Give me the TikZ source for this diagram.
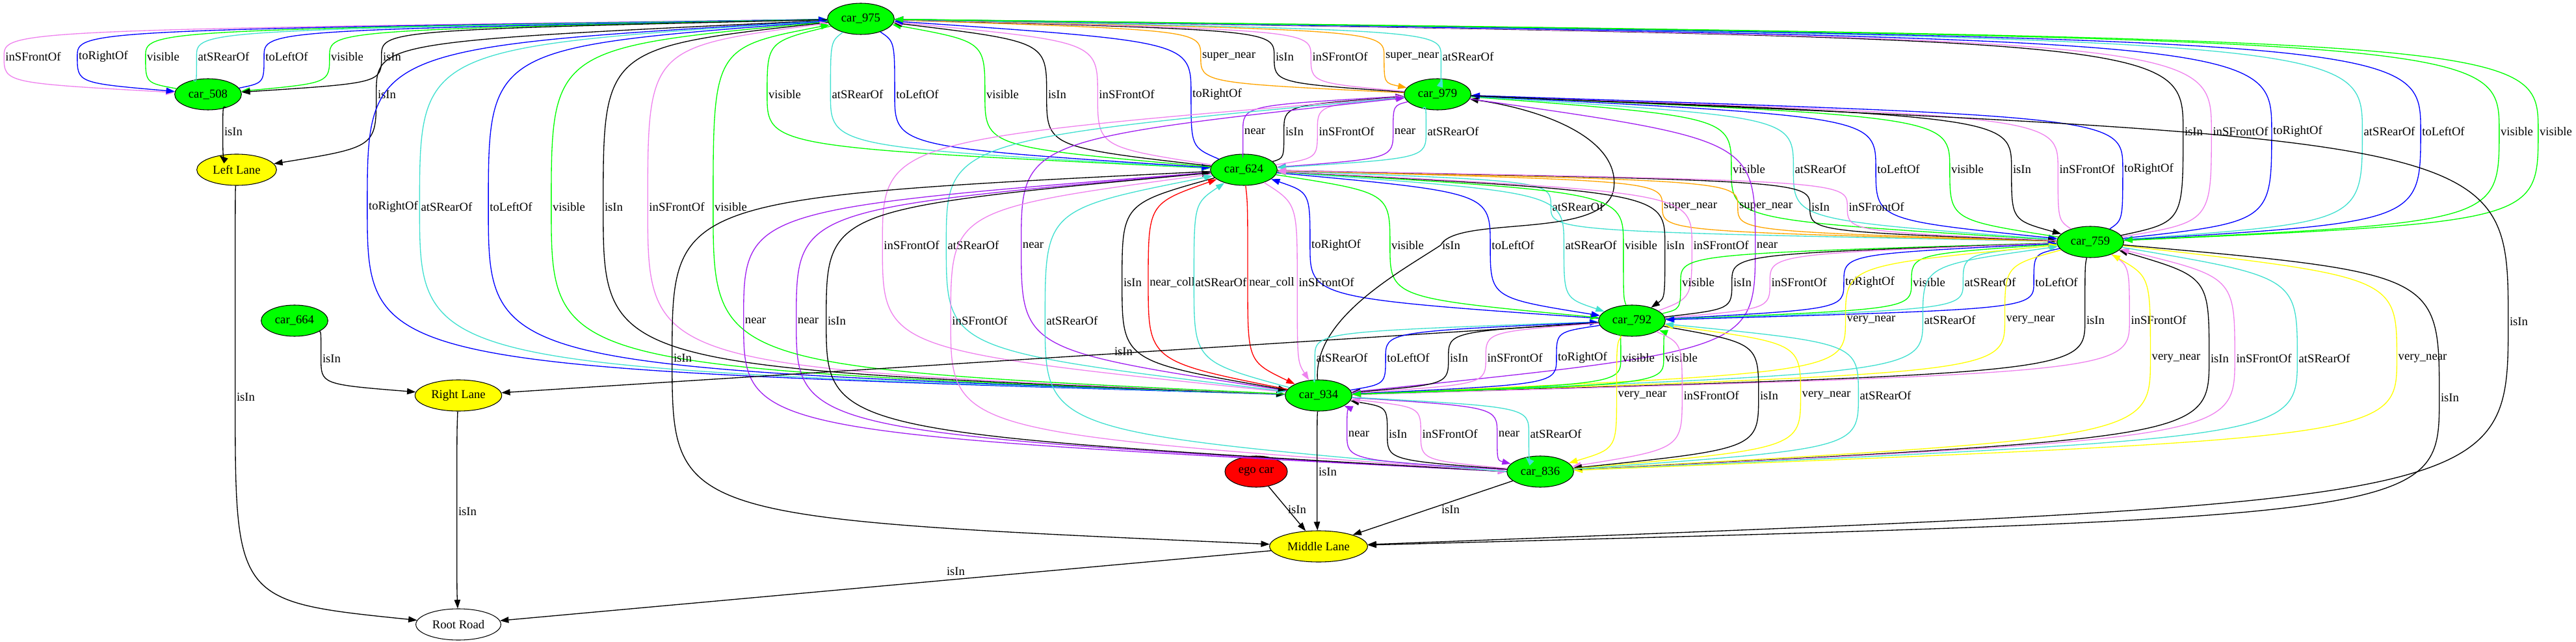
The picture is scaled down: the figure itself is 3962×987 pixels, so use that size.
\documentclass[tikz,border=0pt]{standalone}
\usepackage{fontspec}
\setmainfont{Liberation Serif}
\usetikzlibrary{shapes.geometric,arrows.meta,calc}
\definecolor{gG}{HTML}{00FF00}
\definecolor{gB}{HTML}{0000FF}
\definecolor{gT}{HTML}{40E0D0}
\definecolor{gV}{HTML}{EE82EE}
\definecolor{gP}{HTML}{A020F0}
\definecolor{gO}{HTML}{FFA500}
\definecolor{gR}{HTML}{FF0000}
\definecolor{gY}{HTML}{FFFF00}
\newcounter{lab}
\def\kf{0.7}
\newcommand\ed[6]{%
  \stepcounter{lab}\edef\cl{L\arabic{lab}}%
  \node[lbl] (\cl) at (#5,#6) {#4};
  \draw[conn,#1] (#2) .. controls ($(\cl.west)!\kf!(\cl.west|-#2)$) .. (\cl.west) .. controls ($(\cl.west)!\kf!(\cl.west|-#3)$) .. (#3);}
\newcommand\sed[6]{%
  \stepcounter{lab}\edef\cl{L\arabic{lab}}%
  \node[lbl] (\cl) at (#5,#6) {#4};
  \draw[conn,#1] (#2) -- (#3);}
\tikzset{
  every node/.style={font=\fontsize{14}{16}\selectfont},
  base/.style={ellipse,draw=black,line width=0.8pt,inner sep=0pt,minimum height=36pt},
  car/.style={base,fill=gG,minimum width=77pt},
  lane/.style={base,fill=gY},
  lbl/.style={inner sep=1.5pt},
  conn/.style={line width=1pt,-{Triangle[length=10pt,width=7pt]}}
}
\begin{document}
\begin{tikzpicture}[x=0.75pt,y=-0.75pt]
\useasboundingbox (0,0) rectangle (3962,987);
% nodes
\node[car] (c975) at (1324,29) {car\_975};
\node[car] (c508) at (320,145) {car\_508};
\node[car] (c979) at (2211,145) {car\_979};
\node[lane,minimum width=92pt] (LL) at (364,261) {Left Lane};
\node[car] (c624) at (1913,261) {car\_624};
\node[car] (c759) at (3215,372) {car\_759};
\node[car] (c792) at (2510,493) {car\_792};
\node[car] (c664) at (453,493) {car\_664};
\node[car] (c934) at (2028,608) {car\_934};
\node[lane,minimum width=100pt] (RL) at (705,608) {Right Lane};
\node[car] (c836) at (2369,725) {car\_836};
\node[base,fill=gR,minimum width=72pt] (ego) at (1932,725) {ego car};
\node[lane,minimum width=113pt] (ML) at (2028,840) {Middle Lane};
\node[base,fill=white,minimum width=98pt] (RR) at (705,960) {Root Road};
% row 87
\ed{gV}{c975}{c508}{inSFrontOf}{51}{87}
\ed{gB}{c975}{c508}{toRightOf}{159}{87}
\ed{gG}{c508}{c975}{visible}{251}{87}
\ed{gT}{c508}{c975}{atSRearOf}{344}{87}
\ed{gB}{c508}{c975}{toLeftOf}{441}{87}
\ed{gG}{c975}{c508}{visible}{534}{87}
\ed{black}{c975}{c508}{isIn}{603}{87}
\ed{gO}{c979}{c975}{super\_near}{1890}{87}
\ed{black}{c979}{c975}{isIn}{1976}{87}
\ed{gV}{c979}{c975}{inSFrontOf}{2061}{87}
\ed{gO}{c975}{c979}{super\_near}{2172}{87}
\ed{gT}{c975}{c979}{atSRearOf}{2258}{87}
% row 145
\ed{black}{c975}{LL}{isIn}{595}{145}
\ed{gG}{c975}{c624}{visible}{1207}{145}
\ed{gT}{c975}{c624}{atSRearOf}{1319}{145}
\ed{gB}{c975}{c624}{toLeftOf}{1411}{145}
\ed{gG}{c624}{c975}{visible}{1542}{145}
\ed{black}{c624}{c975}{isIn}{1626}{145}
\ed{gV}{c624}{c975}{inSFrontOf}{1733}{145}
\ed{gB}{c624}{c975}{toRightOf}{1872}{145}
% row 202
\ed{black}{c508}{LL}{isIn}{359}{202}
\ed{gP}{c624}{c979}{near}{1930}{202}
\ed{black}{c624}{c979}{isIn}{1991}{202}
\ed{gV}{c624}{c979}{inSFrontOf}{2071}{202}
\ed{gP}{c979}{c624}{near}{2161}{202}
\ed{gT}{c979}{c624}{atSRearOf}{2235}{202}
\def\kf{0.82}
\ed{black}{c759}{c975}{isIn}{3374}{202}
\ed{gV}{c759}{c975}{inSFrontOf}{3446}{202}
\ed{gB}{c759}{c975}{toRightOf}{3534}{202}
\ed{gT}{c975}{c759}{atSRearOf}{3675}{202}
\ed{gB}{c975}{c759}{toLeftOf}{3758}{202}
\ed{gG}{c975}{c759}{visible}{3871}{202}
\ed{gG}{c759}{c975}{visible}{3931}{202}
\def\kf{0.7}
% row 260
\ed{gG}{c979}{c759}{visible}{2690}{260}
\ed{gT}{c979}{c759}{atSRearOf}{2800}{260}
\ed{gB}{c979}{c759}{toLeftOf}{2920}{260}
\ed{gG}{c759}{c979}{visible}{3026}{260}
\ed{black}{c979}{c759}{isIn}{3110}{260}
\ed{gV}{c759}{c979}{inSFrontOf}{3210}{260}
\ed{gB}{c759}{c979}{toRightOf}{3305}{260}
% row 318
\def\kf{0.85}
\ed{gB}{c975}{c934}{toRightOf}{605}{318}
\ed{gT}{c975}{c934}{atSRearOf}{687}{318}
\ed{gB}{c934}{c975}{toLeftOf}{786}{318}
\ed{gG}{c975}{c934}{visible}{875}{318}
\ed{black}{c975}{c934}{isIn}{944}{318}
\ed{gV}{c934}{c975}{inSFrontOf}{1041}{318}
\ed{gG}{c934}{c975}{visible}{1124}{318}
\def\kf{0.7}
\ed{gT}{c624}{c759}{atSRearOf}{2427}{318}
\ed{gO}{c624}{c759}{super\_near}{2600}{318}
\ed{gO}{c759}{c624}{super\_near}{2716}{318}
\ed{black}{c624}{c759}{isIn}{2800}{318}
\ed{gV}{c759}{c624}{inSFrontOf}{2886}{318}
% row 377
\ed{gV}{c934}{c979}{inSFrontOf}{1402}{377}
\ed{gT}{c979}{c934}{atSRearOf}{1497}{377}
\ed{gP}{c934}{c979}{near}{1589}{377}
\ed{gB}{c792}{c624}{toRightOf}{2055}{377}
\ed{gG}{c624}{c792}{visible}{2165}{377}
\stepcounter{lab}\edef\cl{L\arabic{lab}}%
\node[lbl] (\cl) at (2232,377) {isIn};
\draw[conn,black] (c934) .. controls (2020,490) and (2150,420) .. (\cl.west) .. controls (2240,330) and (2470,370) .. (2482,290) .. controls (2492,215) and (2380,170) .. (c979);
\ed{gB}{c624}{c792}{toLeftOf}{2327}{377}
\ed{gT}{c624}{c792}{atSRearOf}{2447}{377}
\ed{gG}{c792}{c624}{visible}{2524}{377}
\ed{black}{c624}{c792}{isIn}{2577}{377}
\ed{gV}{c792}{c624}{inSFrontOf}{2647}{377}
\ed{gP}{c979}{c934}{near}{2718}{377}
% row 434
\ed{black}{c624}{c934}{isIn}{1742}{434}
\ed{gR}{c934}{c624}{near\_coll}{1803}{434}
\ed{gT}{c934}{c624}{atSRearOf}{1878}{434}
\ed{gR}{c624}{c934}{near\_coll}{1956}{434}
\ed{gV}{c624}{c934}{inSFrontOf}{2040}{434}
\ed{gG}{c792}{c759}{visible}{2612}{434}
\ed{black}{c792}{c759}{isIn}{2680}{434}
\ed{gV}{c792}{c759}{inSFrontOf}{2767}{434}
\ed{gB}{c792}{c759}{toRightOf}{2876}{434}
\ed{gG}{c759}{c792}{visible}{2967}{434}
\ed{gT}{c759}{c792}{atSRearOf}{3061}{434}
\ed{gB}{c759}{c792}{toLeftOf}{3163}{434}
% row 493
\def\kf{0.74}
\ed{gP}{c624}{c836.west}{near}{1162}{493}
\ed{gP}{c836.west}{c624}{near}{1243}{493}
\ed{black}{c836.west}{c624}{isIn}{1287}{493}
\ed{gV}{c624}{c836.west}{inSFrontOf}{1507}{493}
\ed{gT}{c836.west}{c624}{atSRearOf}{1649}{493}
\def\kf{0.7}
\ed{gY}{c934}{c759}{very\_near}{2878}{492}
\ed{gT}{c934}{c759}{atSRearOf}{2999}{492}
\ed{gY}{c759}{c934}{very\_near}{3123}{492}
\ed{black}{c759}{c934}{isIn}{3223}{492}
\ed{gV}{c759}{c934}{inSFrontOf}{3320}{492}
\def\kf{0.8}
\ed{black}{c979}{ML}{isIn}{3874}{494}
\def\kf{0.7}
% row 550
\ed{black}{c664}{RL}{isIn}{510}{551}
\def\kf{0.85}
\ed{black}{c624}{ML}{isIn}{1050}{550}
\def\kf{0.7}
\sed{black}{c792}{RL}{isIn}{1728}{540}
\ed{gT}{c934}{c792}{atSRearOf}{2064}{550}
\ed{gB}{c934}{c792}{toLeftOf}{2166}{550}
\ed{black}{c792}{c934}{isIn}{2244}{550}
\ed{gV}{c792}{c934}{inSFrontOf}{2330}{550}
\ed{gB}{c792}{c934}{toRightOf}{2434}{550}
\ed{gG}{c792}{c934}{visible}{2520}{550}
\ed{gG}{c934}{c792}{visible}{2586}{550}
\ed{gY}{c836}{c759}{very\_near}{3347}{551}
\ed{black}{c836}{c759}{isIn}{3414}{551}
\ed{gV}{c836}{c759}{inSFrontOf}{3482}{551}
\ed{gT}{c759}{c836}{atSRearOf}{3575}{551}
\ed{gY}{c759}{c836}{very\_near}{3726}{551}
% row 608
\def\kf{0.9}
\ed{black}{LL}{RR}{isIn}{378}{610}
\def\kf{0.7}
\ed{gY}{c792}{c836}{very\_near}{2526}{608}
\ed{gV}{c792}{c836}{inSFrontOf}{2632}{608}
\ed{black}{c792}{c836}{isIn}{2721}{608}
\ed{gY}{c836}{c792}{very\_near}{2809}{608}
\ed{gT}{c836}{c792}{atSRearOf}{2900}{608}
\def\kf{0.8}
\ed{black}{c759}{ML}{isIn}{3768}{611}
\def\kf{0.7}
% row 667
\ed{gP}{c836}{c934}{near}{2090}{667}
\ed{black}{c836}{c934}{isIn}{2150}{667}
\ed{gV}{c836}{c934}{inSFrontOf}{2230}{667}
\ed{gP}{c934}{c836}{near}{2321}{667}
\ed{gT}{c934}{c836}{atSRearOf}{2393}{667}
% lower
\ed{black}{c934}{ML}{isIn}{2042}{725}
\sed{black}{ego}{ML}{isIn}{1995}{783}
\sed{black}{c836}{ML}{isIn}{2231}{783}
\ed{black}{RL}{RR}{isIn}{719}{786}
\sed{black}{ML}{RR}{isIn}{1470}{878}
\end{tikzpicture}
\end{document}
